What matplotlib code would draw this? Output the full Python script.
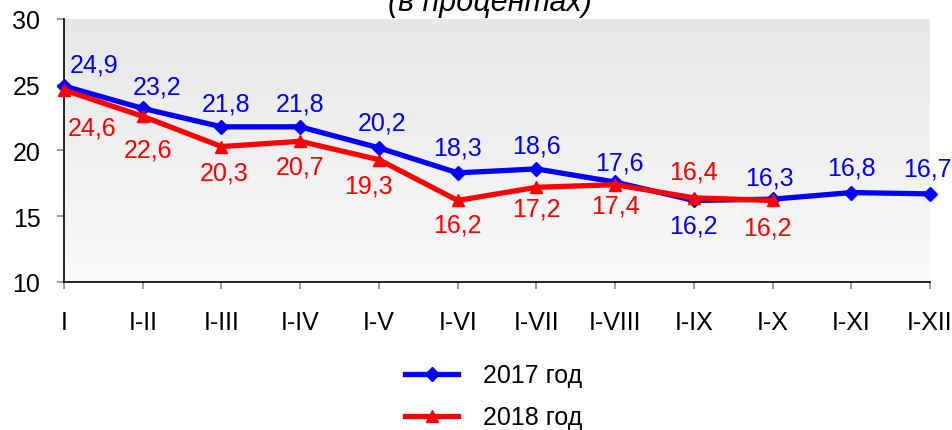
import matplotlib
matplotlib.use('Agg')
import matplotlib.pyplot as plt
import numpy as np
from matplotlib.colors import LinearSegmentedColormap
from matplotlib.lines import Line2D

plt.rcParams['font.family'] = ['Liberation Sans', 'DejaVu Sans']

# periods since the start of the year
periods = ['I', 'I-II', 'I-III', 'I-IV', 'I-V', 'I-VI', 'I-VII', 'I-VIII',
           'I-IX', 'I-X', 'I-XI', 'I-XII']
vals_2017 = [24.9, 23.2, 21.8, 21.8, 20.2, 18.3, 18.6, 17.6, 16.2, 16.3, 16.8, 16.7]
vals_2018 = [24.6, 22.6, 20.3, 20.7, 19.3, 16.2, 17.2, 17.4, 16.4, 16.2]
y_ticks = [10, 15, 20, 25, 30]

# label offsets in pixels (dx, dy), dy > 0 means above the point
off_2017 = [(30, 22), (14, 22), (5, 23), (0, 23), (3, 25), (0, 25), (0, 23),
            (4, 20), (0, -25), (-3, 22), (0, 25), (-3, 25)]
off_2018 = [(28, -37), (5, -33), (3, -26), (0, -25), (-11, -26), (0, -24),
            (0, -21), (0, -21), (0, 26), (-5, -27)]

blue = '#0000ff'
red = '#ff0000'
fs = 18

fig = plt.figure(figsize=(9.53, 4.31), dpi=100)
ax = fig.add_axes([0.0672, 0.3434, 0.9087, 0.6102])

x1 = np.arange(len(vals_2017))
x2 = np.arange(len(vals_2018))

# soft vertical gradient behind the plot
grad = LinearSegmentedColormap.from_list('bg', ['#f9f9f9', '#e7e7e7'])
ax.imshow(np.linspace(0, 1, 256).reshape(-1, 1), extent=[0, 11, 10, 30],
          origin='lower', aspect='auto', cmap=grad, zorder=0)

ax.plot(x1, vals_2017, color=blue, lw=3.8, marker='D', ms=7, clip_on=False, zorder=3)
ax.plot(x2, vals_2018, color=red, lw=3.8, marker='^', ms=9, clip_on=False, zorder=4)

for i, v in enumerate(vals_2017):
    ax.annotate(f'{v:.1f}'.replace('.', ','), (x1[i], v), xytext=off_2017[i],
                textcoords='offset pixels', ha='center', va='center',
                color=blue, fontsize=fs, zorder=5)
for i, v in enumerate(vals_2018):
    ax.annotate(f'{v:.1f}'.replace('.', ','), (x2[i], v), xytext=off_2018[i],
                textcoords='offset pixels', ha='center', va='center',
                color=red, fontsize=fs, zorder=5)

ax.set_xlim(0, 11)
ax.set_ylim(10, 30)
ax.set_xticks(range(len(periods)))
ax.set_xticklabels(periods)
ax.set_yticks(y_ticks)
ax.tick_params(axis='both', direction='out', length=5, width=1.1,
               color='#808080', labelsize=fs, labelcolor='black')
ax.tick_params(axis='x', pad=15)
ax.tick_params(axis='y', pad=12)

for s in ['top', 'right']:
    ax.spines[s].set_visible(False)
for s in ['left', 'bottom']:
    ax.spines[s].set_linewidth(1.2)
    ax.spines[s].set_color('black')

fig.text(0.514, 0.9745, '(в процентах)', ha='center', va='baseline',
         fontsize=22, style='italic')

handles = [Line2D([], [], color=blue, lw=3.8, marker='D', ms=7),
           Line2D([], [], color=red, lw=3.8, marker='^', ms=9)]
fig.legend(handles, ['2017 год', '2018 год'], loc='center',
           bbox_to_anchor=(0.518, 0.078), frameon=False, fontsize=fs,
           handlelength=2.1, handletextpad=1.0, labelspacing=0.72,
           borderpad=0.2)

fig.savefig('out.png', dpi=100)
